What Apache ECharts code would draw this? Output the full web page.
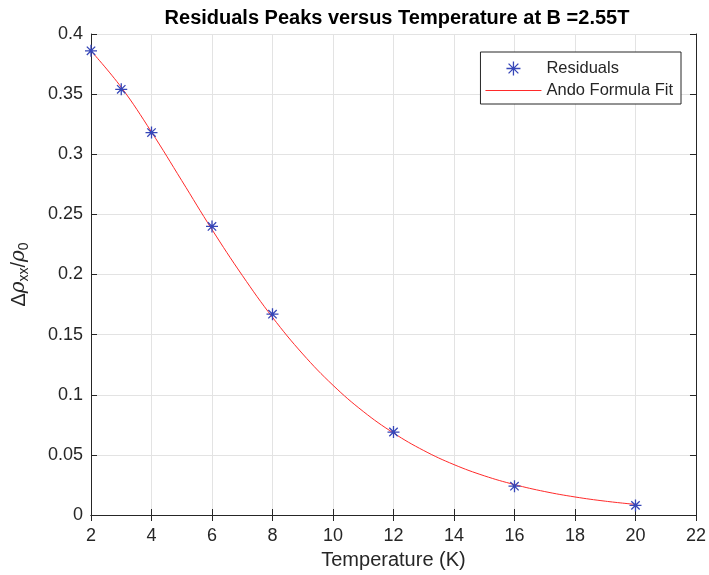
<!DOCTYPE html>
<html>
<head>
<meta charset="utf-8">
<script src="https://cdn.jsdelivr.net/npm/echarts@6/dist/echarts.min.js"></script>
<style>html,body{margin:0;padding:0;background:#fff}#c{width:709px;height:575px}</style>
</head>
<body>
<div id="c"></div>
<script>
const temps = [2, 3, 4, 6, 8, 12, 16, 20];
const residuals = [0.386, 0.354, 0.318, 0.240, 0.167, 0.069, 0.024, 0.008];
const fitT = [2, 3, 4, 5, 6, 7, 8, 9, 10, 11, 12, 13, 14, 15, 16, 17, 18, 19, 20];
const fitV = [0.386, 0.3557, 0.3185, 0.2781, 0.2374, 0.1993, 0.1644, 0.1339, 0.1079, 0.0861, 0.0682, 0.0536, 0.0419, 0.0326, 0.0253, 0.0195, 0.0150, 0.0115, 0.0088];
const xTicks = [2, 22, 2];
const yTicks = [0, 0.4, 0.05];

const FONT = '"Liberation Sans", Arial, Helvetica, sans-serif';
const TXT = '#262626';
const STAR = 'path://M0,-10L0,10M-10,0L10,0M-7,-7L7,7M-7,7L7,-7';
const LINEICON = 'path://M0,0L56,0L56,1.2L0,1.2Z';
const BLUE = '#3646b8';
const RED = '#ff2a2a';

const chart = echarts.init(document.getElementById('c'), null, {renderer: 'canvas'});
const axisCommon = {
  axisLine: {show: true, lineStyle: {color: TXT, width: 1}},
  axisTick: {show: true, inside: true, length: 6, lineStyle: {color: TXT}},
};
chart.setOption({
  backgroundColor: '#fff',
  animation: false,
  title: {
    text: 'Residuals Peaks versus Temperature at B =2.55T',
    left: 392, textAlign: 'center', top: 3,
    textStyle: {fontFamily: FONT, fontSize: 20, fontWeight: 'bold', color: '#000'}
  },
  grid: {left: 91, right: 12, top: 34, bottom: 60, containLabel: false},
  legend: {
    orient: 'vertical', right: 28, top: 52,
    backgroundColor: '#fff', borderColor: TXT, borderWidth: 1, borderRadius: 0,
    padding: [7, 8, 5, 5], itemGap: 4, itemWidth: 56, itemHeight: 14,
    textStyle: {fontFamily: FONT, fontSize: 16.5, lineHeight: 17, color: TXT},
    data: [
      {name: 'Residuals', icon: STAR, itemStyle: {color: 'none', borderColor: BLUE, borderWidth: 1.3}},
      {name: 'Ando Formula Fit', icon: LINEICON, itemStyle: {color: RED}}
    ]
  },
  xAxis: [
    Object.assign({}, axisCommon, {
      type: 'value', min: xTicks[0], max: xTicks[1], interval: xTicks[2], position: 'bottom',
      splitLine: {show: true, lineStyle: {color: '#e3e3e3'}},
      name: 'Temperature (K)', nameLocation: 'middle', nameGap: 35,
      nameTextStyle: {fontFamily: FONT, fontSize: 20, color: TXT},
      axisLabel: {color: TXT, fontFamily: FONT, fontSize: 18, margin: 12}
    }),
    Object.assign({}, axisCommon, {
      type: 'value', min: xTicks[0], max: xTicks[1], interval: xTicks[2], position: 'top',
      splitLine: {show: false}, axisLabel: {show: false}
    })
  ],
  yAxis: [
    Object.assign({}, axisCommon, {
      type: 'value', min: yTicks[0], max: yTicks[1], interval: yTicks[2], position: 'left',
      splitLine: {show: true, lineStyle: {color: '#e3e3e3'}},
      name: '{d|Δ}{r|ρ}{s|xx}{d|/}{r|ρ}{s|0}', nameLocation: 'middle', nameGap: 60,
      nameTextStyle: {
        color: TXT,
        rich: {
          d: {fontFamily: FONT, fontSize: 20, color: TXT},
          r: {fontFamily: '"DejaVu Serif", "Liberation Serif", serif', fontStyle: 'italic', fontSize: 20, color: TXT},
          s: {fontFamily: FONT, fontSize: 14, color: TXT, padding: [10, 0, 0, 0]}
        }
      },
      axisLabel: {color: TXT, fontFamily: FONT, fontSize: 18, margin: 8}
    }),
    Object.assign({}, axisCommon, {
      type: 'value', min: yTicks[0], max: yTicks[1], interval: yTicks[2], position: 'right',
      splitLine: {show: false}, axisLabel: {show: false}
    })
  ],
  series: [
    {
      name: 'Ando Formula Fit', type: 'line', smooth: 0.4, showSymbol: false, symbol: 'none',
      data: fitT.map((t, i) => [t, fitV[i]]),
      lineStyle: {color: RED, width: 1}, itemStyle: {color: RED}, z: 2
    },
    {
      name: 'Residuals', type: 'scatter', symbol: STAR, symbolSize: 12,
      data: temps.map((t, i) => [t, residuals[i]]),
      itemStyle: {color: 'none', borderColor: BLUE, borderWidth: 1.3, opacity: 1}, z: 3
    }
  ]
});
</script>
</body>
</html>
